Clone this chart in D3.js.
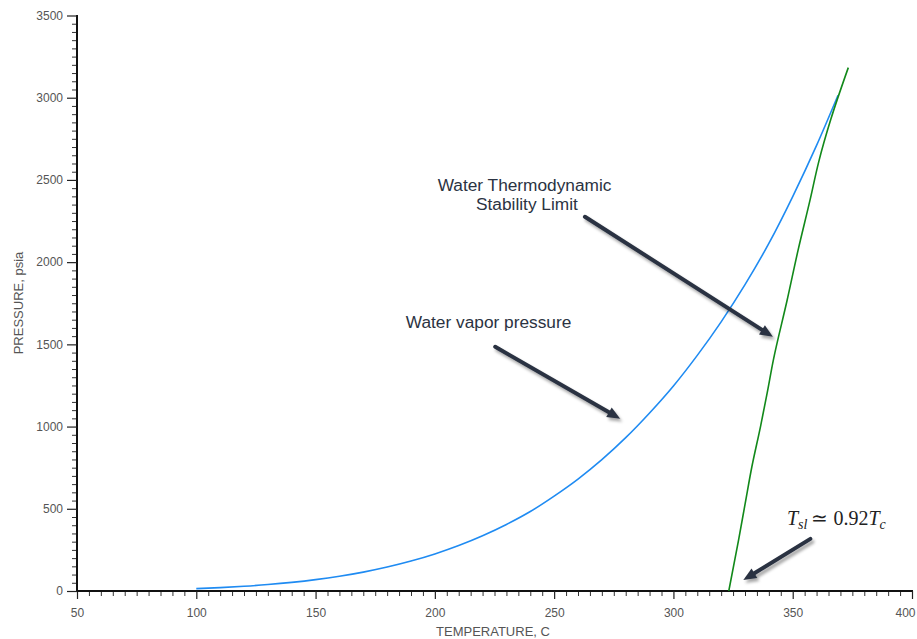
<!DOCTYPE html>
<html><head><meta charset="utf-8">
<script src="https://cdn.jsdelivr.net/npm/d3@7"></script>
<style>
body{margin:0;background:#fff;}
svg{display:block;}
</style></head>
<body>
<svg id="chart" width="917" height="639"></svg>
<script>
// ---- data ----
const xMajorTicks = [50,100,150,200,250,300,350,400];
const yMajorTicks = [0,500,1000,1500,2000,2500,3000,3500];
const vaporT = [100,110,120,130,140,150,160,170,180,190,200,210,220,230,240,250,260,270,280,290,300,310,320,330,340,350,360,369];
const vaporP = [14.7,20.8,28.8,39.2,52.4,69.0,89.6,114.9,145.6,182.1,225.5,276.5,336.0,404.6,483.3,577.0,680.6,798.7,932.4,1082.7,1247,1433,1637,1863,2114,2399,2710,3015];
const limitT = [323.2,327.3,330.1,332.9,336.5,339.3,341.9,347.7,352.3,357.3,360.9,366.0,373.3];
const limitP = [0,310,534,757,1000,1205,1406,1771,2076,2380,2610,2870,3183];
const labelVapor = "Water vapor pressure";
const labelLimit = ["Water Thermodynamic","Stability Limit"];
const xTitle = "TEMPERATURE, C";
const yTitle = "PRESSURE, psia";
// annotation arrows in data coordinates [T0,P0,T1,P1]
const arrowVapor = [225.3,1485,277.7,1047];
const arrowLimit = [262.9,2276,341.7,1546];
const arrowTsl = [357.4,317,329.3,67];

// ---- drawing ----
const svg = d3.select("#chart");
const x = d3.scaleLinear().domain([50,400]).range([77,912]);
const y = d3.scaleLinear().domain([0,3500]).range([591,15.5]);

const defs = svg.append("defs");
const f = defs.append("filter").attr("id","shadow").attr("x","-20%").attr("y","-20%").attr("width","140%").attr("height","140%");
f.append("feDropShadow").attr("dx",2).attr("dy",3).attr("stdDeviation",1.8).attr("flood-color","#000").attr("flood-opacity",0.35);

// minor ticks
const xMinor = d3.range(50,401,5).filter(v=>v%50!==0);
const yMinor = d3.range(0,3501,50).filter(v=>v%500!==0);

const gx = svg.append("g").attr("transform","translate(0,591)");
gx.call(d3.axisBottom(x).tickValues(xMinor).tickSize(5).tickFormat(""));
gx.select(".domain").remove();
gx.selectAll("line").attr("stroke","#333");
const gxM = svg.append("g").attr("transform","translate(0,591)");
gxM.call(d3.axisBottom(x).tickValues(xMajorTicks).tickSize(8).tickPadding(9).tickFormat(d3.format("d")));
gxM.select(".domain").attr("stroke","#111").attr("stroke-width",2).attr("d","M77,0H913");
gxM.selectAll("line").attr("stroke","#222").attr("stroke-width",1.2);
gxM.selectAll("text").attr("fill","#555").attr("font-size","12px").attr("font-family","Liberation Sans, Arial, sans-serif");
// keep the last label inside the window
gxM.selectAll(".tick").filter(d=>d===400).select("text").attr("text-anchor","end").attr("x",3);

const gy = svg.append("g").attr("transform","translate(77,0)");
gy.call(d3.axisLeft(y).tickValues(yMinor).tickSize(5).tickFormat(""));
gy.select(".domain").remove();
gy.selectAll("line").attr("stroke","#333");
const gyM = svg.append("g").attr("transform","translate(77,0)");
gyM.call(d3.axisLeft(y).tickValues(yMajorTicks).tickSize(10).tickPadding(4).tickFormat(d3.format("d")));
gyM.select(".domain").attr("stroke","#111").attr("stroke-width",2).attr("d","M0,15H0V592");
gyM.selectAll("line").attr("stroke","#222").attr("stroke-width",1.2);
gyM.selectAll("text").attr("fill","#555").attr("font-size","12px").attr("font-family","Liberation Sans, Arial, sans-serif");

// axis titles
svg.append("text").attr("x",493).attr("y",636).attr("text-anchor","middle")
  .attr("font-family","Liberation Sans, Arial, sans-serif").attr("font-size","13px").attr("fill","#555").text(xTitle);
svg.append("text").attr("transform","translate(23,303) rotate(-90)").attr("text-anchor","middle")
  .attr("font-family","Liberation Sans, Arial, sans-serif").attr("font-size","13px").attr("fill","#555").text(yTitle);

// curves
const vapor = vaporT.map((t,i)=>[t,vaporP[i]]);
const limit = limitT.map((t,i)=>[t,limitP[i]]);
svg.append("path").datum(vapor)
  .attr("d", d3.line().x(d=>x(d[0])).y(d=>y(d[1])).curve(d3.curveMonotoneX))
  .attr("fill","none").attr("stroke","#1f8bf2").attr("stroke-width",1.6);
svg.append("path").datum(limit)
  .attr("d", d3.line().x(d=>x(d[0])).y(d=>y(d[1])).curve(d3.curveMonotoneY))
  .attr("fill","none").attr("stroke","#12891a").attr("stroke-width",1.6);

// arrows
function arrow(a){
  const x0=x(a[0]), y0=y(a[1]), x1=x(a[2]), y1=y(a[3]);
  const dx=x1-x0, dy=y1-y0, L=Math.hypot(dx,dy), ux=dx/L, uy=dy/L;
  const hl=13, hw=5.5;
  const bx=x1-ux*hl, by=y1-uy*hl;
  const g = svg.append("g").attr("filter","url(#shadow)");
  g.append("line").attr("x1",x0).attr("y1",y0).attr("x2",bx+ux*2).attr("y2",by+uy*2)
    .attr("stroke","#2b3342").attr("stroke-width",4).attr("stroke-linecap","round");
  g.append("path").attr("d",`M${x1},${y1}L${bx-uy*hw},${by+ux*hw}L${bx+uy*hw},${by-ux*hw}Z`)
    .attr("fill","#2b3342");
}
arrow(arrowVapor); arrow(arrowLimit); arrow(arrowTsl);

// labels
const lab = svg.append("g").attr("font-family","Liberation Sans, Arial, sans-serif").attr("font-size","17.3px").attr("fill","#2b3342").attr("text-anchor","middle");
lab.append("text").attr("x",x(222.5)).attr("y",y(1600)).text(labelVapor);
lab.append("text").attr("x",x(237.6)).attr("y",y(2430)).text(labelLimit[0]);
lab.append("text").attr("x",x(238.6)).attr("y",y(2320)).text(labelLimit[1]);

// formula
const fm = svg.append("text").attr("x",x(347.6)).attr("y",y(400))
  .attr("font-family","Liberation Serif, Times New Roman, serif").attr("font-size","20px").attr("fill","#222");
fm.append("tspan").attr("font-style","italic").text("T");
fm.append("tspan").attr("font-style","italic").attr("font-size","14px").attr("dy",4).text("sl");
fm.append("tspan").attr("dy",-4).attr("dx",4).text("≃ 0.92");
fm.append("tspan").attr("font-style","italic").text("T");
fm.append("tspan").attr("font-style","italic").attr("font-size","14px").attr("dy",4).text("c");
</script>
</body></html>
